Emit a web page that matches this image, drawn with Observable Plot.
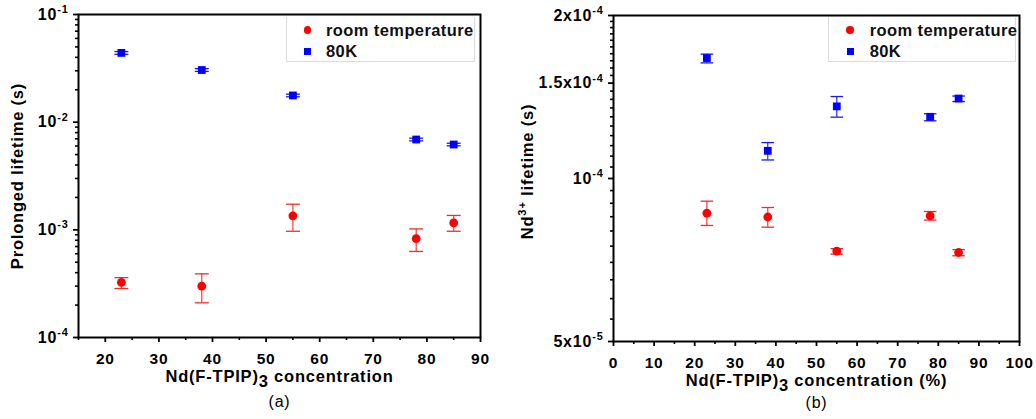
<!DOCTYPE html>
<html><head><meta charset="utf-8">
<script src="https://cdn.jsdelivr.net/npm/d3@7"></script>
<script src="https://cdn.jsdelivr.net/npm/@observablehq/plot@0.6"></script>
<style>
html,body{margin:0;padding:0;background:#fff;}
#wrap{display:flex;width:1036px;height:419px;overflow:hidden;}
.panel{position:relative;width:518px;height:419px;}
.panel svg{display:block;}
.legend{position:absolute;top:16.5px;height:45px;border:1px solid #dcdcdc;border-top:none;background:#fff;box-sizing:border-box;
  font-family:"Liberation Sans",Arial,sans-serif;font-weight:bold;font-size:16.5px;color:#111;letter-spacing:0.4px;white-space:nowrap;}
.legend .sym{position:absolute;}
.legend .lab{position:absolute;top:0;line-height:20px;white-space:nowrap;}
</style></head>
<body>
<div id="wrap"><div class="panel" id="pa"></div><div class="panel" id="pb"></div></div>
<script>
// ---------- data ----------
const concentration = [23, 38, 55, 78, 85];

// panel (a): prolonged lifetime (s)
const aRoomValue = [3.25e-4, 3.0e-4, 1.35e-3, 8.3e-4, 1.16e-3];
const aRoomLow   = [2.85e-4, 2.1e-4, 9.7e-4, 6.3e-4, 9.7e-4];
const aRoomHigh  = [3.6e-4, 3.9e-4, 1.73e-3, 1.02e-3, 1.36e-3];
const aColdValue = [0.044, 0.0305, 0.0177, 0.0069, 0.0062];
const aColdLow   = [0.0427, 0.0296, 0.0172, 0.0067, 0.00603];
const aColdHigh  = [0.0453, 0.0314, 0.0182, 0.0071, 0.00637];

// panel (b): Nd3+ lifetime (s)
const bRoomValue = [8.63e-5, 8.49e-5, 7.34e-5, 8.53e-5, 7.30e-5];
const bRoomLow   = [8.19e-5, 8.13e-5, 7.25e-5, 8.38e-5, 7.20e-5];
const bRoomHigh  = [9.08e-5, 8.84e-5, 7.42e-5, 8.69e-5, 7.39e-5];
const bColdValue = [1.669e-4, 1.125e-4, 1.359e-4, 1.30e-4, 1.405e-4];
const bColdLow   = [1.635e-4, 1.082e-4, 1.298e-4, 1.278e-4, 1.387e-4];
const bColdHigh  = [1.697e-4, 1.165e-4, 1.417e-4, 1.317e-4, 1.42e-4];

const seriesNames = ["room temperature", "80K"];

// tick values & labels
const aXTicks = [20, 30, 40, 50, 60, 70, 80, 90];
const aYTicks = [1e-4, 1e-3, 1e-2, 1e-1];
const aYTickLabels = ["10^{-4}", "10^{-3}", "10^{-2}", "10^{-1}"];
const bXTicks = [0, 10, 20, 30, 40, 50, 60, 70, 80, 90, 100];
const bYTicks = [5e-5, 1e-4, 1.5e-4, 2e-4];
const bYTickLabels = ["5x10^{-5}", "10^{-4}", "1.5x10^{-4}", "2x10^{-4}"];

const aXLabel = "Nd(F-TPIP)_{3} concentration";
const aYLabel = "Prolonged lifetime (s)";
const bXLabel = "Nd(F-TPIP)_{3} concentration (%)";
const bYLabel = "Nd^{3+} lifetime (s)";

// ---------- helpers ----------
const rows = (vals, lo, hi) => concentration.map((c, i) => ({c, v: vals[i], lo: lo[i], hi: hi[i]}));
const cap = {draw(ctx, size) { const w = Math.sqrt(size / Math.PI); ctx.moveTo(-w, 0); ctx.lineTo(w, 0); }};
const minorLog = (decStart, decEnd) => { const t = []; for (let e = decStart; e < decEnd; e++) for (let k = 2; k <= 9; k++) t.push(k * 10 ** e); return t; };

function errMarks(data, color, capR) {
  return [
    Plot.ruleX(data, {x: "c", y1: "lo", y2: "hi", stroke: color, strokeWidth: 1.1}),
    Plot.dot(data, {x: "c", y: "lo", symbol: cap, r: capR, stroke: color, fill: "none", strokeWidth: 1.3}),
    Plot.dot(data, {x: "c", y: "hi", symbol: cap, r: capR, stroke: color, fill: "none", strokeWidth: 1.3})
  ];
}

function panel(cfg) {
  const lm = new Map(cfg.yTicks.map((v, i) => [v, cfg.yTickLabels[i]]));
  const room = rows(...cfg.room), cold = rows(...cfg.cold);
  return Plot.plot({
    width: 518, height: 419,
    marginLeft: cfg.m[3], marginRight: cfg.m[1], marginTop: cfg.m[0], marginBottom: cfg.m[2],
    style: {fontFamily: "'Liberation Sans', Arial, sans-serif", color: "black", background: "white", overflow: "visible"},
    x: {domain: cfg.xDomain},
    y: {type: "log", domain: cfg.yDomain},
    marks: [
      Plot.axisX(cfg.xMinor, {tickSize: 3, text: null, label: null, strokeWidth: 1.6}),
      Plot.axisX(cfg.xTicks, {tickSize: 5, tickPadding: 10, fontSize: 15.5, fontWeight: "bold", label: null, strokeWidth: 1.8}),
      Plot.axisY(cfg.yMinor, {tickSize: 3, text: null, label: null, strokeWidth: 1.6}),
      Plot.axisY(cfg.yTicks, {tickSize: 5, tickPadding: 5, tickFormat: d => lm.get(d), fontSize: 16, fontWeight: "bold", label: null, strokeWidth: 1.8}),
      ...errMarks(room, "#e8302c", cfg.capR),
      ...errMarks(cold, "#1a1ae6", cfg.capR),
      Plot.dot(room, {x: "c", y: "v", r: 4.4, fill: "#ff0000", symbol: "circle"}),
      Plot.dot(cold, {x: "c", y: "v", r: 4.4, fill: "#0000ff", symbol: "square"}),
      Plot.frame({stroke: "black", strokeWidth: 2}),
      Plot.text([cfg.xLabel], {frameAnchor: "bottom", lineAnchor: "middle", textAnchor: "middle", dy: cfg.xLabelDy, text: d => d, fontSize: 16.5, fontWeight: "bold"}),
      Plot.text([cfg.tag], {frameAnchor: "bottom", lineAnchor: "middle", textAnchor: "middle", dy: cfg.tagDy, text: d => d, fontSize: 16}),
      Plot.text([cfg.yLabel], {frameAnchor: "left", lineAnchor: "middle", textAnchor: "middle", dx: cfg.yLabelDx, dy: cfg.yLabelDy, rotate: -90, text: d => d, fontSize: 16.5, fontWeight: "bold"})
    ]
  });
}

const NS = "http://www.w3.org/2000/svg";
function richify(svg) {
  svg.querySelectorAll("text").forEach(el => {
    const s = el.textContent;
    if (s === "") { el.remove(); return; }
    el.setAttribute("letter-spacing", "0.8");
    if (!/[\^_]\{/.test(s)) return;
    const base = parseFloat(getComputedStyle(el).fontSize) || 15;
    el.textContent = "";
    const re = /([\^_])\{([^}]*)\}/g;
    let idx = 0, off = 0, m;
    const add = (txt, target, fs) => {
      const t = document.createElementNS(NS, "tspan");
      t.textContent = txt;
      const d = target - off;
      if (d) t.setAttribute("dy", d.toFixed(2));
      if (fs) t.setAttribute("font-size", fs.toFixed(1));
      off = target;
      el.appendChild(t);
    };
    while ((m = re.exec(s))) {
      if (m.index > idx) add(s.slice(idx, m.index), 0);
      if (m[1] === "^") add(m[2], -base * 0.42, base * 0.68);
      else add(m[2], base * 0.3, null);
      idx = re.lastIndex;
    }
    if (idx < s.length) add(s.slice(idx), 0);
  });
}

function legend(host, left, width, symX, textX) {
  const box = document.createElement("div");
  box.className = "legend";
  box.style.left = left + "px";
  box.style.width = width + "px";
  const items = [
    {name: seriesNames[0], color: "#ff0000", round: true, cy: 13.5},
    {name: seriesNames[1], color: "#0000ff", round: false, cy: 34.5}
  ];
  items.forEach(it => {
    const sz = it.round ? 7.5 : 7;
    const sym = document.createElement("div");
    sym.className = "sym";
    Object.assign(sym.style, {left: (symX - sz / 2) + "px", top: (it.cy - sz / 2) + "px", width: sz + "px", height: sz + "px",
      background: it.color, borderRadius: it.round ? "50%" : "0"});
    const lab = document.createElement("div");
    lab.className = "lab";
    lab.textContent = it.name;
    Object.assign(lab.style, {left: textX + "px", top: (it.cy - 10) + "px"});
    box.appendChild(sym); box.appendChild(lab);
  });
  host.appendChild(box);
}

// ---------- render ----------
const pa = document.getElementById("pa"), pb = document.getElementById("pb");
const svgA = panel({
  m: [14, 38, 82, 78], xDomain: [15, 90], yDomain: [1e-4, 1e-1],
  xTicks: aXTicks, xMinor: [15, 25, 35, 45, 55, 65, 75, 85],
  yTicks: aYTicks, yTickLabels: aYTickLabels, yMinor: minorLog(-4, -1),
  room: [aRoomValue, aRoomLow, aRoomHigh], cold: [aColdValue, aColdLow, aColdHigh],
  capR: 7, xLabel: aXLabel, yLabel: aYLabel, tag: "(a)", xLabelDy: 39, tagDy: 64, yLabelDx: -61, yLabelDy: 0
});
pa.appendChild(svgA);
const bMinor = d3.range(55, 200, 5).map(k => k * 1e-6).filter(v => !bYTicks.some(t => Math.abs(t - v) < 1e-9));
const svgB = panel({
  m: [15, 17, 78, 95], xDomain: [0, 100], yDomain: [5e-5, 2e-4],
  xTicks: bXTicks, xMinor: d3.range(5, 100, 10),
  yTicks: bYTicks, yTickLabels: bYTickLabels, yMinor: bMinor,
  room: [bRoomValue, bRoomLow, bRoomHigh], cold: [bColdValue, bColdLow, bColdHigh],
  capR: 6.3, xLabel: bXLabel, yLabel: bYLabel, tag: "(b)", xLabelDy: 39, tagDy: 61, yLabelDx: -86, yLabelDy: -7
});
pb.appendChild(svgB);
richify(svgA); richify(svgB);
legend(pa, 286, 189, 20.7, 39);
legend(pb, 310, 188, 21, 40.7);
</script>
</body></html>
